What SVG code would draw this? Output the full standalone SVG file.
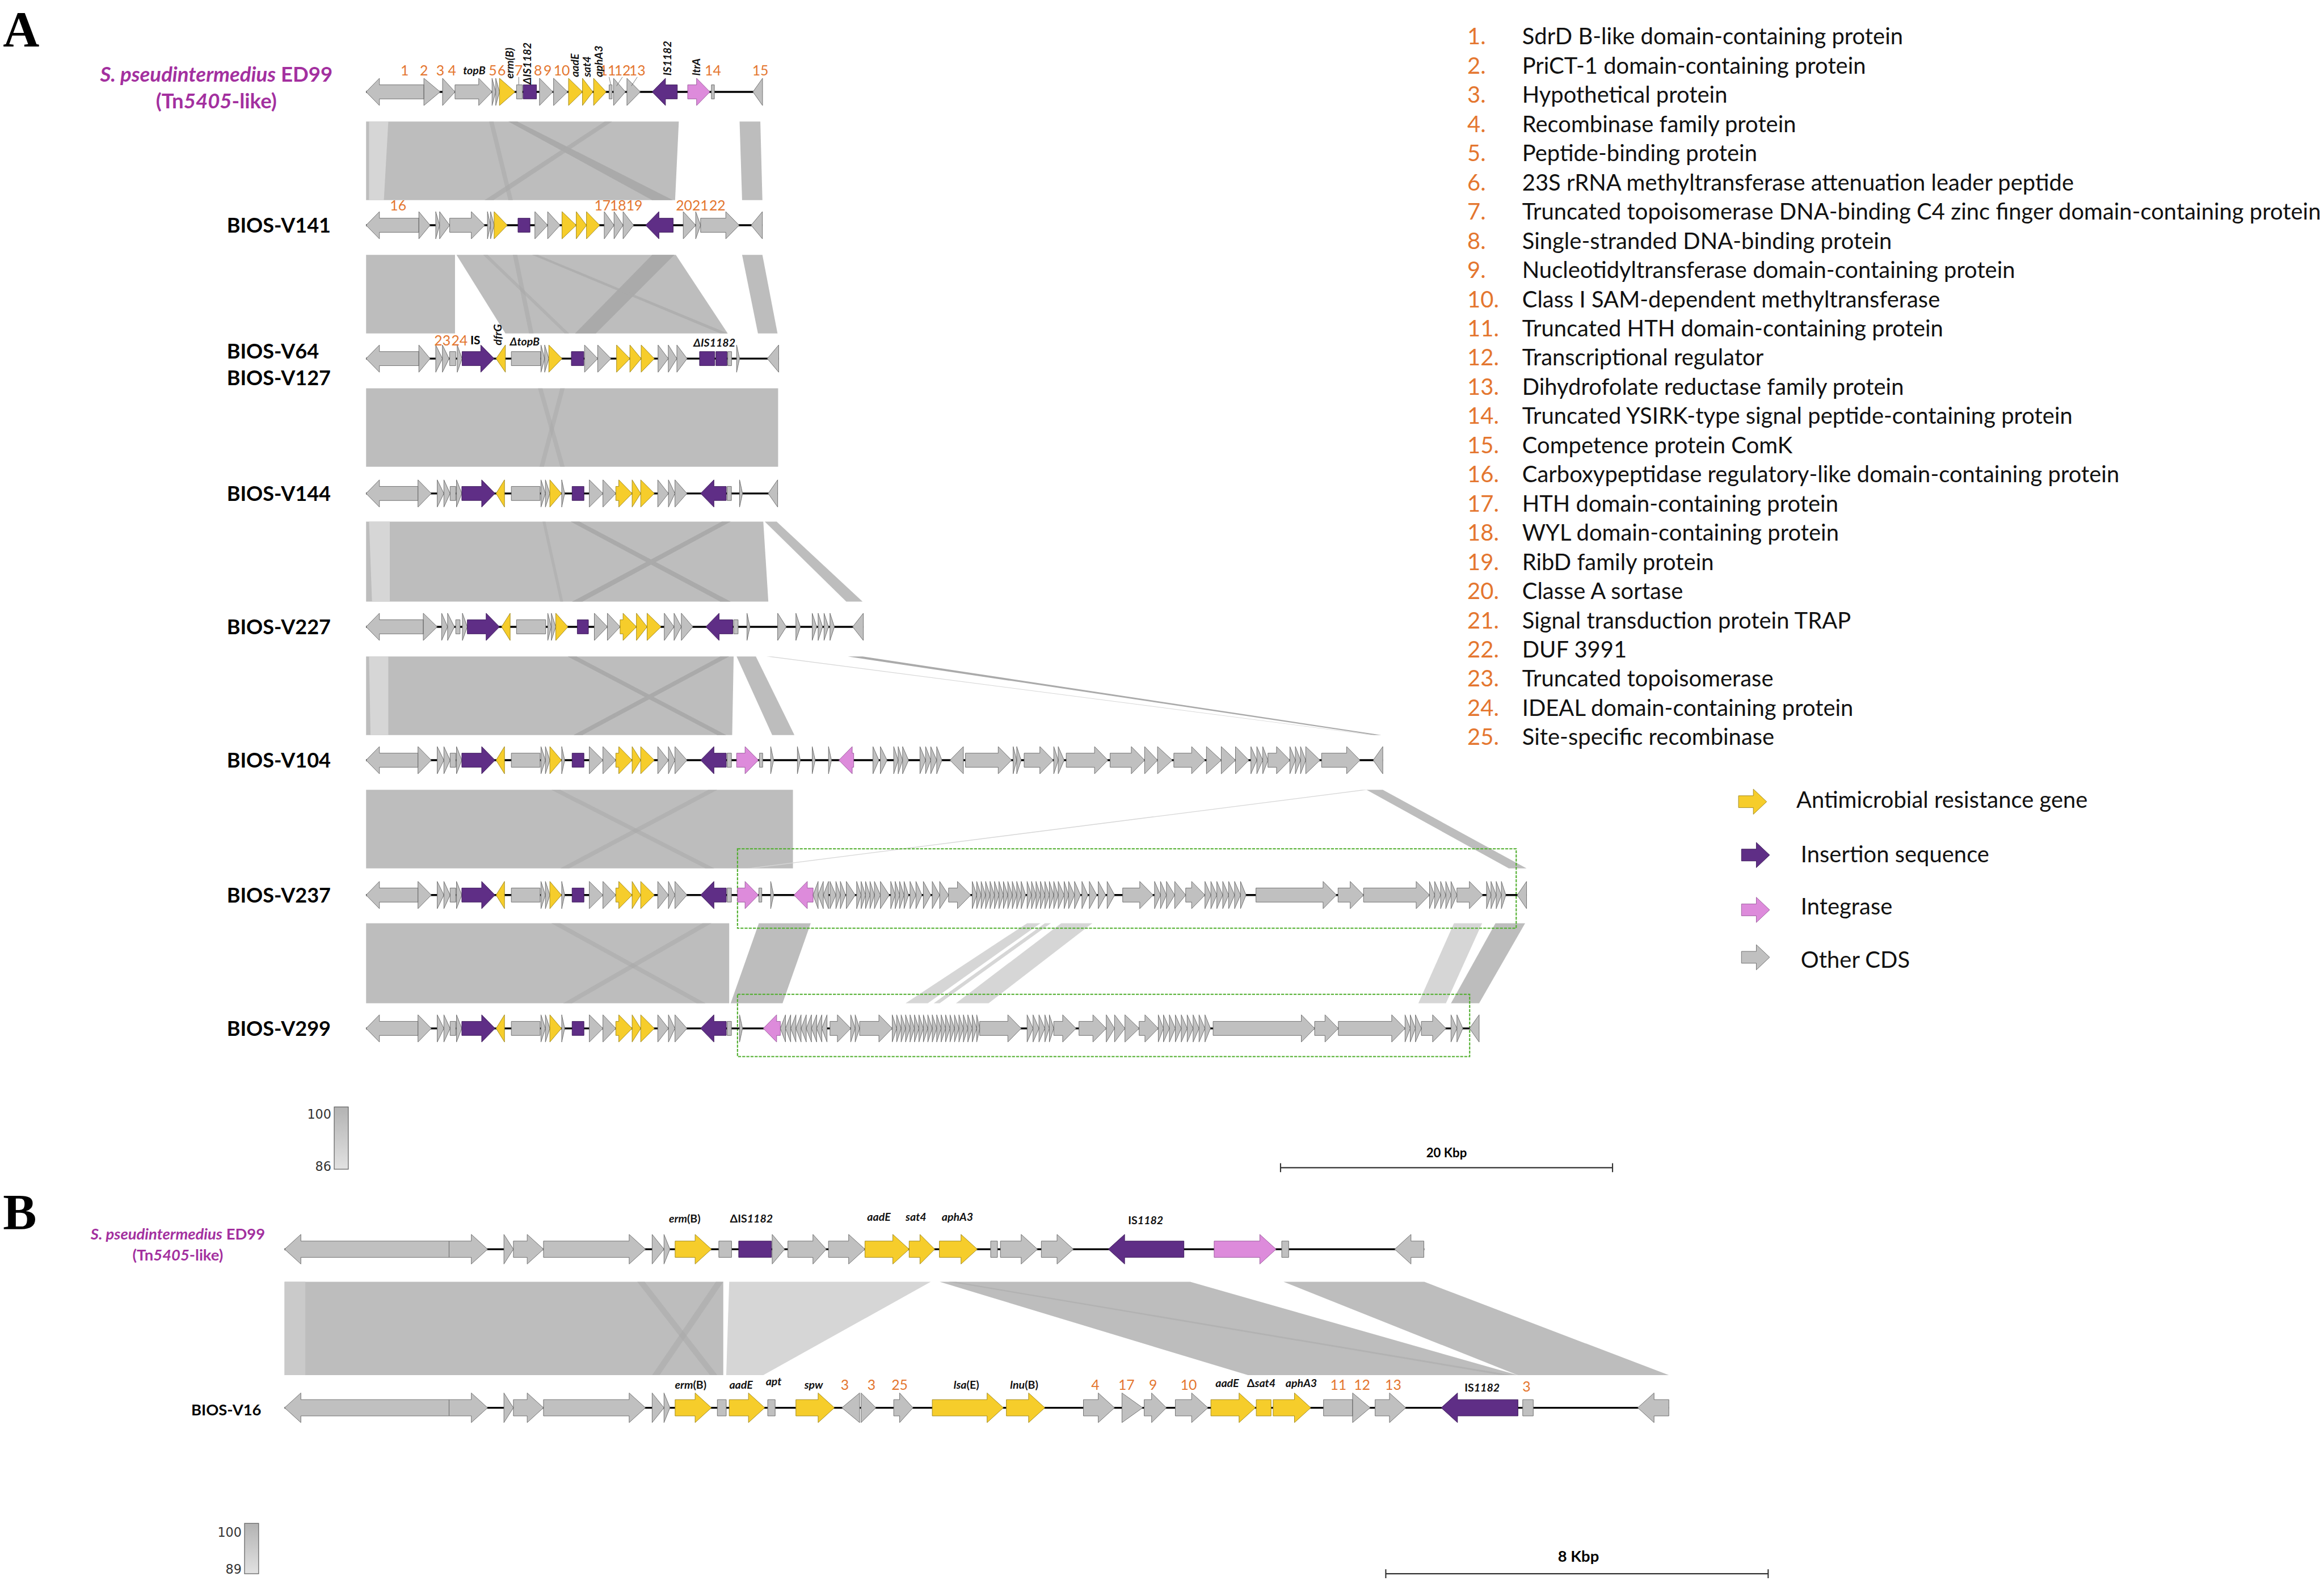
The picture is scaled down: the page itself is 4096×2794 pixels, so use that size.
<svg xmlns="http://www.w3.org/2000/svg" xmlns:xlink="http://www.w3.org/1999/xlink" width="4096" height="2794" viewBox="0 0 4096 2794">
<style>
.g{fill:#c0c0c0;stroke:#6a6a6a;stroke-width:0.35}
.y{fill:#f6cd2b;stroke:#9c8418;stroke-width:0.35}
.p{fill:#5f2e86;stroke:#3a1856;stroke-width:0.35}
.k{fill:#dd8bdb;stroke:#98569a;stroke-width:0.35}
.tr{stroke:#000;stroke-width:1.3}
.bd{fill:#bdbdbd}
.bl{fill:#d6d6d6}
.bk{fill:#aaaaaa}
.num{font-family:Lato,"Open Sans",sans-serif;fill:#e4762f;font-size:9.5px;text-anchor:middle}
.gl{font-family:Lato,"Open Sans",sans-serif;font-weight:bold;font-style:italic;font-size:7.5px;fill:#111}
.glh{font-family:Lato,"Open Sans",sans-serif;font-weight:bold;font-style:italic;font-size:7.5px;fill:#111;text-anchor:middle}
.tl{font-family:Lato,"Open Sans",sans-serif;font-weight:bold;font-size:13.8px;fill:#000}
.lt{font-family:Lato,"Open Sans",sans-serif;font-size:15.3px;fill:#111}
.ln{font-family:Lato,"Open Sans",sans-serif;font-size:15.3px;fill:#e4762f}
.mg{font-family:Lato,"Open Sans",sans-serif;font-weight:bold;fill:#a3309f;text-anchor:middle}
.sc{font-family:"DejaVu Sans",sans-serif;fill:#333;text-anchor:end}
.box{fill:none;stroke:#4fae2c;stroke-width:0.8;stroke-dasharray:2 0.8}
.bar{stroke:#333;stroke-width:0.8;fill:none}
</style>
<defs>
<linearGradient id="grad" x1="0" y1="0" x2="0" y2="1"><stop offset="0" stop-color="#b3b3b3"/><stop offset="1" stop-color="#e2e2e2"/></linearGradient>
<g id="core">
<path class="g" d="M282,-4.75H256V-9.2L247,0L256,9.2V4.75H282Z M282,-9.2L291,0L282,9.2Z M295,-9.2L299.5,0L295,9.2Z M299.5,-9.2L303.7,0L299.5,9.2Z M303.7,-4.75H307.5V4.75H303.7Z M308,-9.2L311.6,0L308,9.2Z M345,-4.75H364.4V4.75H345Z M365,-9.2L368,0L365,9.2Z M368,-9.2L371,0L368,9.2Z M379,-9.2L381,0L379,9.2Z M397.6,-9.2L406.8,0L397.6,9.2Z M406.8,-9.2L415.5,0L406.8,9.2Z M443.8,-9.2L451,0L443.8,9.2Z M451,-9.2L455.4,0L451,9.2Z M455.4,-9.2L463.5,0L455.4,9.2Z M490.6,-4.75H493.5V4.75H490.6Z"/>
<path class="y" d="M340.4,-9.2L334.7,0L340.4,9.2Z M371,-9.2L378.8,0L371,9.2Z M415.5,-4.75H417.5V-9.2L426.5,0L417.5,9.2V4.75H415.5Z M426.5,-9.2L432.3,0L426.5,9.2Z M432.3,-9.2L441.5,0L432.3,9.2Z"/>
<path class="p" d="M311.6,-4.75H325V-9.2L334,0L325,9.2V4.75H311.6Z M386,-4.75H394V4.75H386Z M490,-4.75H481.7V-9.2L472.7,0L481.7,9.2V4.75H490Z"/>
</g>
</defs>
<rect width="4096" height="2794" fill="#fff"/>
<g transform="scale(2.6122)">

<text x="2" y="31" font-family="Liberation Serif" font-weight="bold" font-size="34">A</text>
<text x="2" y="829" font-family="Liberation Serif" font-weight="bold" font-size="34">B</text>

<!-- similarity bands (connectors) -->
<g id="connectors">
<polygon class="bd" points="247,82 458,82 455.5,135 247,135"/>
<polygon class="bl" points="249,82 262,82 259,135 249,135"/>
<polygon class="bk" points="343,82 349,82 454,135 440,135"/>
<polygon class="bk" points="408,82 413,82 333,135 327,135" opacity="0.7"/>
<polygon class="bk" points="330,82 333,82 346,135 343,135" opacity="0.6"/>
<polygon class="bd" points="499,82 513,82 514.4,135 500.7,135"/>

<polygon class="bd" points="247,172 307,172 307,225 247,225"/>
<polygon class="bd" points="308,172 456,172 491,225 341,225"/>
<polygon class="bk" points="440,172 455,172 402,225 388,225"/>
<polygon class="bk" points="359,172 363,172 491,225 486,225" opacity="0.7"/>
<polygon class="bk" points="326,172 329,172 384,225 381,225" opacity="0.6"/>
<polygon class="bk" points="346,172 349,172 360,225 357,225" opacity="0.6"/>
<polygon class="bd" points="500.7,172 514.4,172 524.6,225 511.4,225"/>

<polygon class="bd" points="247,262 525,262 525,315 247,315"/>
<polygon class="bk" points="363,262 366,262 381,315 378,315" opacity="0.5"/>
<polygon class="bk" points="378,262 381,262 367,315 364,315" opacity="0.5"/>

<polygon class="bd" points="247,352 515,352 518.4,406 247,406"/>
<polygon class="bl" points="249,352 263,352 263,406 251,406"/>
<polygon class="bk" points="385,352 391,352 493,406 486,406"/>
<polygon class="bk" points="487,352 493,352 393,406 386,406"/>
<polygon class="bk" points="366,352 368,352 380,406 378,406" opacity="0.5"/>
<polygon class="bd" points="516,352 524,352 582,406 571,406"/>

<polygon class="bd" points="247,443 495,443 494,496 247,496"/>
<polygon class="bl" points="249,443 262,443 262,496 250,496"/>
<polygon class="bk" points="383,443 389,443 490,496 484,496"/>
<polygon class="bk" points="486,443 492,443 393,496 387,496"/>
<polygon class="bd" points="497,443 510,443 536,496 521,496"/>
<polygon class="bl" points="517,443 521,443 927,496 925,496"/>
<polygon class="bk" points="572,443 582,443 932,496 927,496"/>

<polygon class="bd" points="247,533 535,533 535,586 247,586"/>
<polygon class="bk" points="372,533 378,533 482,586 476,586" opacity="0.6"/>
<polygon class="bk" points="478,533 484,533 384,586 378,586" opacity="0.6"/>
<polygon class="bl" points="919,533 923,533 508,586 504,586"/>
<polygon class="bd" points="922,533 933,533 1030,586 1018,586"/>

<polygon class="bd" points="247,623 492,623 492,677 247,677"/>
<polygon class="bk" points="372,623 378,623 476,677 470,677" opacity="0.6"/>
<polygon class="bk" points="474,623 480,623 386,677 380,677" opacity="0.6"/>
<polygon class="bd" points="512,623 547,623 528,677 493,677"/>
<polygon class="bl" points="693,623 702,623 626,677 611,677"/>
<polygon class="bl" points="705,623 709,623 634,677 630,677"/>
<polygon class="bl" points="716,623 737,623 667,677 645,677"/>
<polygon class="bl" points="981,623 1000,623 975.6,677 957,677"/>
<polygon class="bd" points="1009,623 1029,623 998,677 979,677"/>

<polygon class="bd" points="192,865 488,865 488,928 192,928"/>
<polygon fill="#cacaca" points="192,865 206,865 206,928 192,928"/>
<polygon class="bk" points="430,865 435,865 484,928 479,928" opacity="0.6"/>
<polygon class="bk" points="483,865 488,865 445,928 440,928" opacity="0.6"/>
<polygon class="bl" points="492,865 628,865 515,928 490,928"/>
<polygon class="bd" points="634,865 803,865 1024,928 842,928"/>
<polygon class="bk" points="640,865 645,865 1020,928 1013,928" opacity="0.6"/>
<polygon class="bd" points="866,865 961,865 1126,928 1024,928"/>
</g>

<rect class="box" x="497.6" y="572.8" width="525.4" height="53.6"/>
<rect class="box" x="497.6" y="671" width="494" height="42"/>

<!-- ED99 A -->
<g id="ed99-a">
<text class="mg" x="146" y="55" font-size="14"><tspan font-style="italic">S. pseudintermedius</tspan> ED99</text>
<text class="mg" x="146" y="73" font-size="14">(Tn<tspan font-style="italic">5405</tspan>-like)</text>
<g transform="translate(0,62)">
<line class="tr" x1="247" y1="0" x2="514.5" y2="0"/>
<path class="g" d="M286,-4.75H256V-9.2L247,0L256,9.2V4.75H286Z M286,-9.2L297,0L286,9.2Z M298.6,-9.2L307,0L298.6,9.2Z M307,-4.75H323V-9.2L332,0L323,9.2V4.75H307Z M332,-9.2L334.5,0L332,9.2Z M334.5,-9.2L337,0L334.5,9.2Z M348.5,-4.75H352.5V4.75H348.5Z M364,-9.2L373,0L364,9.2Z M373.5,-9.2L383,0L373.5,9.2Z M411,-4.75H413V4.75H411Z M414,-9.2L422,0L414,9.2Z M423,-9.2L432,0L423,9.2Z M480,-4.75H482V4.75H480Z M514.5,-9.2L508,0L514.5,9.2Z"/>
<path class="y" d="M337,-9.2L347.5,0L337,9.2Z M383.6,-9.2L393,0L383.6,9.2Z M393,-9.2L400,0L393,9.2Z M400.5,-9.2L409,0L400.5,9.2Z"/>
<path class="p" d="M353,-4.75H362V4.75H353Z M457,-4.75H449V-9.2L440,0L449,9.2V4.75H457Z"/>
<path class="k" d="M464,-4.75H470V-9.2L479,0L470,9.2V4.75H464Z"/>
</g>
<g stroke="#555" stroke-width="0.3"><line x1="350" y1="52" x2="350" y2="57"/><line x1="411" y1="52" x2="412" y2="57"/><line x1="420" y1="52" x2="416" y2="58"/><line x1="430" y1="52" x2="426" y2="58"/></g>
<text class="num" x="273" y="51">1</text><text class="num" x="286" y="51">2</text><text class="num" x="297" y="51">3</text><text class="num" x="305" y="51">4</text>
<text class="glh" x="320" y="50">topB</text>
<text class="num" x="332.5" y="51">5</text><text class="num" x="338.5" y="51">6</text>
<text class="num" x="350" y="51">7</text><text class="num" x="363" y="51">8</text><text class="num" x="369.5" y="51">9</text><text class="num" x="379" y="51">10</text>
<text class="num" x="410" y="51" font-size="8.3">11</text><text class="num" x="420" y="51" font-size="8.3">12</text><text class="num" x="430" y="51" font-size="8.3">13</text>
<text class="num" x="481" y="51">14</text><text class="num" x="513" y="51">15</text>
<text class="gl" transform="translate(346.5,53) rotate(-90)">erm(B)</text>
<text class="gl" transform="translate(358.5,57) rotate(-90)">ΔIS1182</text>
<text class="gl" transform="translate(390.5,52) rotate(-90)">aadE</text>
<text class="gl" transform="translate(398.5,52) rotate(-90)">sat4</text>
<text class="gl" transform="translate(406.5,52) rotate(-90)">aphA3</text>
<text class="gl" transform="translate(453,51) rotate(-90)">IS1182</text>
<text class="gl" transform="translate(472.5,51) rotate(-90)">ltrA</text>
</g>

<!-- V141 -->
<g id="v141">
<text class="tl" x="153" y="157">BIOS-V141</text>
<g transform="translate(0,152)">
<line class="tr" x1="247" y1="0" x2="514.4" y2="0"/>
<path class="g" d="M282.6,-4.75H256V-9.2L247,0L256,9.2V4.75H282.6Z M282.6,-9.2L290.2,0L282.6,9.2Z M294,-9.2L296.6,0L294,9.2Z M296.6,-9.2L303.4,0L296.6,9.2Z M303.4,-4.75H318V-9.2L327,0L318,9.2V4.75H303.4Z M328.9,-9.2L331,0L328.9,9.2Z M331,-9.2L333.4,0L331,9.2Z M360.9,-9.2L369.5,0L360.9,9.2Z M369.5,-9.2L377.9,0L369.5,9.2Z M407.7,-9.2L414.3,0L407.7,9.2Z M414.3,-9.2L420.4,0L414.3,9.2Z M420.4,-9.2L427.5,0L420.4,9.2Z M461,-9.2L469.4,0L461,9.2Z M469.4,-9.2L472.7,0L469.4,9.2Z M472.7,-4.75H489.7V-9.2L498.7,0L489.7,9.2V4.75H472.7Z M514.4,-9.2L506.8,0L514.4,9.2Z"/>
<path class="y" d="M333.4,-9.2L342.3,0L333.4,9.2Z M379.2,-9.2L388.8,0L379.2,9.2Z M388.8,-9.2L395.7,0L388.8,9.2Z M395.7,-9.2L404.6,0L395.7,9.2Z"/>
<path class="p" d="M349.5,-4.75H357.6V4.75H349.5Z M454.2,-4.75H444.6V-9.2L435.6,0L444.6,9.2V4.75H454.2Z"/>
</g>
<text class="num" x="268.6" y="142" font-size="10.5">16</text><text class="num" x="406.5" y="142" font-size="9">17</text><text class="num" x="417" y="142" font-size="9">18</text><text class="num" x="428" y="142" font-size="9">19</text>
<text class="num" x="461.5" y="142" font-size="9">20</text><text class="num" x="472.5" y="142" font-size="9">21</text><text class="num" x="484" y="142" font-size="9">22</text>
</g>

<!-- V64 / V127 -->
<g id="v64">
<text class="tl" x="153" y="242">BIOS-V64</text>
<text class="tl" x="153" y="260">BIOS-V127</text>
<g transform="translate(0,242)">
<line class="tr" x1="247" y1="0" x2="525.4" y2="0"/>
<path class="g" d="M282.6,-4.75H256V-9.2L247,0L256,9.2V4.75H282.6Z M282.6,-9.2L290.2,0L282.6,9.2Z M294,-9.2L298.5,0L294,9.2Z M298.5,-9.2L303,0L298.5,9.2Z M303.4,-4.75H307.5V4.75H303.4Z M308.5,-9.2L311.8,0L308.5,9.2Z M345,-4.75H364.7V4.75H345Z M365,-9.2L367.5,0L365,9.2Z M367.5,-9.2L370.3,0L367.5,9.2Z M394.4,-9.2L403.3,0L394.4,9.2Z M403.3,-9.2L412.2,0L403.3,9.2Z M444,-9.2L450.9,0L444,9.2Z M450.9,-9.2L456.7,0L450.9,9.2Z M456.7,-9.2L463.6,0L456.7,9.2Z M491,-4.75H493.6V4.75H491Z M497,-9.2L499,0L497,9.2Z M525.4,-9.2L517.7,0L525.4,9.2Z"/>
<path class="y" d="M341,-9.2L334.7,0L341,9.2Z M370.3,-9.2L379.2,0L370.3,9.2Z M416,-9.2L425,0L416,9.2Z M425,-9.2L432.6,0L425,9.2Z M432.6,-9.2L441.5,0L432.6,9.2Z"/>
<path class="p" d="M311.8,-4.75H324.4V-9.2L333.4,0L324.4,9.2V4.75H311.8Z M385.5,-4.75H393.9V4.75H385.5Z M472,-4.75H482.2V4.75H472Z M483,-4.75H490.5V4.75H483Z"/>
</g>
<text class="num" x="298.5" y="233">23</text><text class="num" x="310" y="233">24</text>
<text x="320.7" y="232.5" font-family="Lato,sans-serif" font-weight="bold" font-size="8" text-anchor="middle">IS</text>
<text class="gl" transform="translate(338.5,233) rotate(-90)">dfrG</text>
<text class="glh" x="354" y="233">ΔtopB</text>
<text class="glh" x="482" y="234">ΔIS1182</text>
</g>

<!-- V144 -->
<g id="v144">
<text class="tl" x="153" y="338">BIOS-V144</text>
<g transform="translate(0,333)">
<line class="tr" x1="247" y1="0" x2="524.7" y2="0"/>
<use xlink:href="#core"/>
<path class="g" d="M499,-9.2L501,0L499,9.2Z M524.7,-9.2L518.3,0L524.7,9.2Z"/>
</g>
</g>

<!-- V227 -->
<g id="v227">
<text class="tl" x="153" y="428">BIOS-V227</text>
<g transform="translate(0,423)">
<line class="tr" x1="247" y1="0" x2="582.5" y2="0"/>
<path class="g" d="M285.6,-4.75H256V-9.2L247,0L256,9.2V4.75H285.6Z M285.6,-9.2L295,0L285.6,9.2Z M298,-9.2L302,0L298,9.2Z M302,-9.2L306.6,0L302,9.2Z M307.5,-4.75H310.4V4.75H307.5Z M312,-9.2L315.3,0L312,9.2Z M348.5,-4.75H368.2V4.75H348.5Z M369.6,-9.2L372,0L369.6,9.2Z M372,-9.2L375,0L372,9.2Z M401,-9.2L409.8,0L401,9.2Z M409.8,-9.2L418.4,0L409.8,9.2Z M448.2,-9.2L454.8,0L448.2,9.2Z M454.8,-9.2L459.7,0L454.8,9.2Z M459.7,-9.2L467.5,0L459.7,9.2Z M495,-4.75H498V4.75H495Z M504,-9.2L506,0L504,9.2Z M524.7,-9.2L530.5,0L524.7,9.2Z M537,-9.2L540,0L537,9.2Z M548,-9.2L551,0L548,9.2Z M552,-9.2L555,0L552,9.2Z M556,-9.2L559,0L556,9.2Z M560,-9.2L563,0L560,9.2Z M582.5,-9.2L575.3,0L582.5,9.2Z"/>
<path class="y" d="M344.2,-9.2L338.4,0L344.2,9.2Z M375,-9.2L383.2,0L375,9.2Z M418.4,-4.75H420.4V-9.2L429.4,0L420.4,9.2V4.75H418.4Z M429.4,-9.2L436.6,0L429.4,9.2Z M436.6,-9.2L446,0L436.6,9.2Z"/>
<path class="p" d="M315.3,-4.75H328V-9.2L337,0L328,9.2V4.75H315.3Z M389.5,-4.75H397V4.75H389.5Z M494.4,-4.75H485.2V-9.2L476.2,0L485.2,9.2V4.75H494.4Z"/>
</g>
</g>

<!-- V104 -->
<g id="v104">
<text class="tl" x="153" y="518">BIOS-V104</text>
<g transform="translate(0,513)">
<line class="tr" x1="247" y1="0" x2="933" y2="0"/>
<use xlink:href="#core"/>
<path class="k" d="M497,-4.75H502.7V-9.2L511.7,0L502.7,9.2V4.75H497Z M576,-4.75H575V-9.2L566,0L575,9.2V4.75H576Z"/>
<path class="g" d="M512.4,-4.75H514.6V4.75H512.4Z M520,-9.2L522,0L520,9.2Z M538,-9.2L540,0L538,9.2Z M548,-9.2L550,0L548,9.2Z M559,-9.2L561,0L559,9.2Z M589,-9.2L593,0L589,9.2Z M594,-9.2L598.5,0L594,9.2Z M603,-9.2L606,0L603,9.2Z M606,-9.2L609,0L606,9.2Z M609,-9.2L613,0L609,9.2Z M620.7,-9.2L624.5,0L620.7,9.2Z M624.5,-9.2L628,0L624.5,9.2Z M628,-9.2L632,0L628,9.2Z M632,-9.2L635.5,0L632,9.2Z M650,-9.2L641,0L650,9.2Z M651.4,-4.75H673.5V-9.2L682.5,0L673.5,9.2V4.75H651.4Z M683.6,-9.2L686,0L683.6,9.2Z M686,-9.2L689,0L686,9.2Z M691,-4.75H701.6V-9.2L710.6,0L701.6,9.2V4.75H691Z M711,-9.2L714,0L711,9.2Z M714,-9.2L718,0L714,9.2Z M719.4,-4.75H738.5V-9.2L747.5,0L738.5,9.2V4.75H719.4Z M749,-4.75H763.3V-9.2L772.3,0L763.3,9.2V4.75H749Z M772.3,-9.2L781,0L772.3,9.2Z M781,-9.2L791,0L781,9.2Z M792,-4.75H804V-9.2L813,0L804,9.2V4.75H792Z M814,-9.2L824,0L814,9.2Z M824,-9.2L833.6,0L824,9.2Z M833.6,-9.2L842.6,0L833.6,9.2Z M844,-9.2L848,0L844,9.2Z M848,-9.2L852,0L848,9.2Z M852,-9.2L855.5,0L852,9.2Z M855.5,-4.75H861.3V-9.2L870.3,0L861.3,9.2V4.75H855.5Z M870.3,-9.2L874,0L870.3,9.2Z M874,-9.2L877.5,0L874,9.2Z M877.5,-9.2L881,0L877.5,9.2Z M881,-9.2L890.6,0L881,9.2Z M891.7,-4.75H908.6V-9.2L917.6,0L908.6,9.2V4.75H891.7Z M933,-9.2L926.5,0L933,9.2Z"/>
</g>
</g>

<!-- V237 -->
<g id="v237">
<text class="tl" x="153" y="609">BIOS-V237</text>
<g transform="translate(0,604)">
<line class="tr" x1="247" y1="0" x2="1030" y2="0"/>
<use xlink:href="#core"/>
<path class="k" d="M497.6,-4.75H502.7V-9.2L511.7,0L502.7,9.2V4.75H497.6Z M548.6,-4.75H544.7V-9.2L535.7,0L544.7,9.2V4.75H548.6Z"/>
<path class="g" d="M512,-4.75H514V4.75H512Z M520,-9.2L522,0L520,9.2Z M552,-9.2L548.6,0L552,9.2Z M555.5,-9.2L552,0L555.5,9.2Z M559,-9.2L555.5,0L559,9.2Z M560,-9.2L564,0L560,9.2Z M564,-9.2L567,0L564,9.2Z M567,-9.2L570.5,0L567,9.2Z M571,-9.2L577,0L571,9.2Z M578,-9.2L581,0L578,9.2Z M581,-9.2L584,0L581,9.2Z M584,-9.2L587,0L584,9.2Z M587,-9.2L590,0L587,9.2Z M590,-9.2L594,0L590,9.2Z M594,-9.2L600,0L594,9.2Z M601,-9.2L604,0L601,9.2Z M604,-9.2L607,0L604,9.2Z M607,-9.2L610,0L607,9.2Z M610,-9.2L613,0L610,9.2Z M614,-9.2L618,0L614,9.2Z M618,-9.2L622,0L618,9.2Z M623,-9.2L628,0L623,9.2Z M629,-9.2L634,0L629,9.2Z M634,-9.2L640,0L634,9.2Z M640,-4.75H646V-9.2L655,0L646,9.2V4.75H640Z M656,-9.2L659,0L656,9.2Z M659,-9.2L662,0L659,9.2Z M662,-9.2L665,0L662,9.2Z M665,-9.2L668,0L665,9.2Z M668,-9.2L671,0L668,9.2Z M671,-9.2L674,0L671,9.2Z M674,-9.2L677,0L674,9.2Z M677,-9.2L680,0L677,9.2Z M680,-9.2L683,0L680,9.2Z M683,-9.2L686,0L683,9.2Z M686,-9.2L689,0L686,9.2Z M689,-9.2L692,0L689,9.2Z M693,-9.2L696,0L693,9.2Z M696,-9.2L699,0L696,9.2Z M699,-9.2L702,0L699,9.2Z M702,-9.2L705,0L702,9.2Z M705,-9.2L708,0L705,9.2Z M708,-9.2L711,0L708,9.2Z M711,-9.2L714,0L711,9.2Z M714,-9.2L718,0L714,9.2Z M718,-9.2L721,0L718,9.2Z M721,-9.2L725,0L721,9.2Z M725,-9.2L729,0L725,9.2Z M730,-9.2L734,0L730,9.2Z M735,-9.2L740,0L735,9.2Z M741,-9.2L746,0L741,9.2Z M747,-9.2L752,0L747,9.2Z M757.5,-4.75H769V-9.2L778,0L769,9.2V4.75H757.5Z M779,-9.2L783,0L779,9.2Z M783,-9.2L787,0L783,9.2Z M787,-9.2L792.6,0L787,9.2Z M792.6,-9.2L800,0L792.6,9.2Z M800,-4.75H804V-9.2L813,0L804,9.2V4.75H800Z M813,-9.2L817,0L813,9.2Z M817,-9.2L821,0L817,9.2Z M821,-9.2L825,0L821,9.2Z M825,-9.2L829,0L825,9.2Z M829,-9.2L833,0L829,9.2Z M833,-9.2L837,0L833,9.2Z M837,-9.2L840.7,0L837,9.2Z M847.4,-4.75H892.7V-9.2L901.7,0L892.7,9.2V4.75H847.4Z M902.8,-4.75H911V-9.2L920,0L911,9.2V4.75H902.8Z M920,-4.75H955.5V-9.2L964.5,0L955.5,9.2V4.75H920Z M964.5,-9.2L968,0L964.5,9.2Z M968,-9.2L972,0L968,9.2Z M972,-9.2L975.5,0L972,9.2Z M975.5,-9.2L979,0L975.5,9.2Z M979,-9.2L983,0L979,9.2Z M983,-4.75H991.4V-9.2L1000.4,0L991.4,9.2V4.75H983Z M1003,-9.2L1006,0L1003,9.2Z M1006,-9.2L1009.5,0L1006,9.2Z M1009.5,-9.2L1013,0L1009.5,9.2Z M1013,-9.2L1016,0L1013,9.2Z M1030,-9.2L1023.7,0L1030,9.2Z"/>
</g>
</g>

<!-- V299 -->
<g id="v299">
<text class="tl" x="153" y="699">BIOS-V299</text>
<g transform="translate(0,694)">
<line class="tr" x1="247" y1="0" x2="998" y2="0"/>
<use xlink:href="#core"/>
<path class="k" d="M526.5,-4.75H524V-9.2L515,0L524,9.2V4.75H526.5Z"/>
<path class="g" d="M499,-9.2L501,0L499,9.2Z M530,-9.2L526.5,0L530,9.2Z M533.5,-9.2L530,0L533.5,9.2Z M537,-9.2L533.5,0L537,9.2Z M540.5,-9.2L537,0L540.5,9.2Z M544,-9.2L540.5,0L544,9.2Z M547.5,-9.2L544,0L547.5,9.2Z M551,-9.2L547.5,0L551,9.2Z M554.5,-9.2L551,0L554.5,9.2Z M558,-9.2L554.5,0L558,9.2Z M560,-4.75H565V-9.2L574,0L565,9.2V4.75H560Z M574,-9.2L577,0L574,9.2Z M577,-9.2L580,0L577,9.2Z M580,-4.75H593V-9.2L602,0L593,9.2V4.75H580Z M602,-9.2L605,0L602,9.2Z M605,-9.2L608,0L605,9.2Z M608,-9.2L611,0L608,9.2Z M611,-9.2L614,0L611,9.2Z M614,-9.2L617,0L614,9.2Z M617,-9.2L620,0L617,9.2Z M620,-9.2L623,0L620,9.2Z M623,-9.2L626,0L623,9.2Z M626,-9.2L629,0L626,9.2Z M629,-9.2L632,0L629,9.2Z M632,-9.2L635,0L632,9.2Z M635,-9.2L638,0L635,9.2Z M638,-9.2L641,0L638,9.2Z M641,-9.2L644,0L641,9.2Z M644,-9.2L647,0L644,9.2Z M647,-9.2L650,0L647,9.2Z M650,-9.2L653,0L650,9.2Z M653,-9.2L656,0L653,9.2Z M656,-9.2L659,0L656,9.2Z M659,-9.2L661,0L659,9.2Z M661,-4.75H680V-9.2L689,0L680,9.2V4.75H661Z M693,-9.2L697,0L693,9.2Z M697,-9.2L701,0L697,9.2Z M701,-9.2L705,0L701,9.2Z M705,-9.2L708,0L705,9.2Z M708,-9.2L711,0L708,9.2Z M711,-4.75H717V-9.2L726,0L717,9.2V4.75H711Z M728,-4.75H737.4V-9.2L746.4,0L737.4,9.2V4.75H728Z M746.4,-9.2L752,0L746.4,9.2Z M752,-9.2L759,0L752,9.2Z M759,-9.2L768.6,0L759,9.2Z M768.6,-4.75H772.5V-9.2L781.5,0L772.5,9.2V4.75H768.6Z M781.5,-9.2L785,0L781.5,9.2Z M785,-9.2L789,0L785,9.2Z M789,-9.2L793,0L789,9.2Z M793,-9.2L797,0L793,9.2Z M797,-9.2L801,0L797,9.2Z M801,-9.2L805,0L801,9.2Z M805,-9.2L809,0L805,9.2Z M809,-9.2L813,0L809,9.2Z M813,-9.2L816.7,0L813,9.2Z M818.5,-4.75H878V-9.2L887,0L878,9.2V4.75H818.5Z M887,-4.75H894V-9.2L903,0L894,9.2V4.75H887Z M903,-4.75H939V-9.2L948,0L939,9.2V4.75H903Z M948,-9.2L951.5,0L948,9.2Z M951.5,-9.2L955,0L951.5,9.2Z M955,-9.2L959,0L955,9.2Z M959,-4.75H966.6V-9.2L975.6,0L966.6,9.2V4.75H959Z M979,-9.2L983,0L979,9.2Z M983,-9.2L987,0L983,9.2Z M998,-9.2L991.5,0L998,9.2Z"/>
</g>
</g>

<!-- scale A -->
<g id="scale-a">
<rect x="225.5" y="747" width="9.5" height="42" fill="url(#grad)" stroke="#666" stroke-width="0.5"/>
<text class="sc" x="223.5" y="755" font-size="8.5">100</text>
<text class="sc" x="223.5" y="790" font-size="8.5">86</text>
<text x="976" y="781" font-family="Lato,sans-serif" font-weight="bold" font-size="8.5" text-anchor="middle">20 Kbp</text>
<path class="bar" d="M864,788H1088M864,785V791M1088,785V791"/>
</g>

<!-- legend -->
<g id="legend">
<text class="ln" x="990" y="30">1.</text><text class="lt" x="1027" y="30">SdrD B-like domain-containing protein</text>
<text class="ln" x="990" y="49.7">2.</text><text class="lt" x="1027" y="49.7">PriCT-1 domain-containing protein</text>
<text class="ln" x="990" y="69.4">3.</text><text class="lt" x="1027" y="69.4">Hypothetical protein</text>
<text class="ln" x="990" y="89.1">4.</text><text class="lt" x="1027" y="89.1">Recombinase family protein</text>
<text class="ln" x="990" y="108.8">5.</text><text class="lt" x="1027" y="108.8">Peptide-binding protein</text>
<text class="ln" x="990" y="128.5">6.</text><text class="lt" x="1027" y="128.5">23S rRNA methyltransferase attenuation leader peptide</text>
<text class="ln" x="990" y="148.2">7.</text><text class="lt" x="1027" y="148.2">Truncated topoisomerase DNA-binding C4 zinc finger domain-containing protein</text>
<text class="ln" x="990" y="167.9">8.</text><text class="lt" x="1027" y="167.9">Single-stranded DNA-binding protein</text>
<text class="ln" x="990" y="187.6">9.</text><text class="lt" x="1027" y="187.6">Nucleotidyltransferase domain-containing protein</text>
<text class="ln" x="990" y="207.3">10.</text><text class="lt" x="1027" y="207.3">Class I SAM-dependent methyltransferase</text>
<text class="ln" x="990" y="227">11.</text><text class="lt" x="1027" y="227">Truncated HTH domain-containing protein</text>
<text class="ln" x="990" y="246.7">12.</text><text class="lt" x="1027" y="246.7">Transcriptional regulator</text>
<text class="ln" x="990" y="266.4">13.</text><text class="lt" x="1027" y="266.4">Dihydrofolate reductase family protein</text>
<text class="ln" x="990" y="286.1">14.</text><text class="lt" x="1027" y="286.1">Truncated YSIRK-type signal peptide-containing protein</text>
<text class="ln" x="990" y="305.8">15.</text><text class="lt" x="1027" y="305.8">Competence protein ComK</text>
<text class="ln" x="990" y="325.5">16.</text><text class="lt" x="1027" y="325.5">Carboxypeptidase regulatory-like domain-containing protein</text>
<text class="ln" x="990" y="345.2">17.</text><text class="lt" x="1027" y="345.2">HTH domain-containing protein</text>
<text class="ln" x="990" y="364.9">18.</text><text class="lt" x="1027" y="364.9">WYL domain-containing protein</text>
<text class="ln" x="990" y="384.6">19.</text><text class="lt" x="1027" y="384.6">RibD family protein</text>
<text class="ln" x="990" y="404.3">20.</text><text class="lt" x="1027" y="404.3">Classe A sortase</text>
<text class="ln" x="990" y="424">21.</text><text class="lt" x="1027" y="424">Signal transduction protein TRAP</text>
<text class="ln" x="990" y="443.7">22.</text><text class="lt" x="1027" y="443.7">DUF 3991</text>
<text class="ln" x="990" y="463.4">23.</text><text class="lt" x="1027" y="463.4">Truncated topoisomerase</text>
<text class="ln" x="990" y="483.1">24.</text><text class="lt" x="1027" y="483.1">IDEAL domain-containing protein</text>
<text class="ln" x="990" y="502.8">25.</text><text class="lt" x="1027" y="502.8">Site-specific recombinase</text>
</g>
<g id="key">
<path class="y" d="M1173,537H1183V532.5L1192,541L1183,549.5V545H1173Z"/>
<text class="lt" x="1212" y="545">Antimicrobial resistance gene</text>
<path class="p" d="M1175,573H1185V568.5L1194,577L1185,585.5V581H1175Z"/>
<text class="lt" x="1215" y="582">Insertion sequence</text>
<path class="k" d="M1175,610H1185V605.5L1194,614L1185,622.5V618H1175Z"/>
<text class="lt" x="1215" y="617">Integrase</text>
<path class="g" d="M1175,642H1185V637.5L1194,646L1185,654.5V650H1175Z"/>
<text class="lt" x="1215" y="653">Other CDS</text>
</g>

<!-- Panel B ED99 -->
<g id="ed99-b">
<text class="mg" x="120" y="836.5" font-size="10.5"><tspan font-style="italic">S. pseudintermedius</tspan> ED99</text>
<text class="mg" x="120" y="850.5" font-size="10.5">(Tn<tspan font-style="italic">5405</tspan>-like)</text>
<g transform="translate(0,843)">
<line class="tr" x1="192" y1="0" x2="961" y2="0"/>
<path class="g" d="M303,-5.5H203V-10L192,0L203,10V5.5H303Z M303,-5.5H318V-10L329,0L318,10V5.5H303Z M340,-10L346.4,0L340,10Z M346.4,-5.5H355.7V-10L366.7,0L355.7,10V5.5H346.4Z M366.7,-5.5H424.5V-10L435.5,0L424.5,10V5.5H366.7Z M440,-10L448,0L440,10Z M448,-10L452,0L448,10Z M485,-5.5H493.6V5.5H485Z M521,-10L529.4,0L521,10Z M531.6,-5.5H548.5V-10L557.5,0L548.5,10V5.5H531.6Z M559,-5.5H572.6V-10L583.6,0L572.6,10V5.5H559Z M668.4,-5.5H673V5.5H668.4Z M675,-5.5H689V-10L700,0L689,10V5.5H675Z M702.6,-5.5H713.2V-10L724.2,0L713.2,10V5.5H702.6Z M864.8,-5.5H869.5V5.5H864.8Z M960.7,-5.5H952V-10L941,0L952,10V5.5H960.7Z"/>
<path class="y" d="M455.5,-5.5H469V-10L480,0L469,10V5.5H455.5Z M583.6,-5.5H602.4V-10L613.4,0L602.4,10V5.5H583.6Z M613.4,-5.5H620.7V-10L630.7,0L620.7,10V5.5H613.4Z M633.8,-5.5H648.4V-10L659.4,0L648.4,10V5.5H633.8Z"/>
<path class="p" d="M498.4,-5.5H520.5V5.5H498.4Z M798.8,-5.5H758.8V-10L747.8,0L758.8,10V5.5H798.8Z"/>
<path class="k" d="M819.2,-5.5H850V-10L861,0L850,10V5.5H819.2Z"/>
</g>
<text class="glh" x="462" y="825" font-size="8.5">erm<tspan font-style="normal">(B)</tspan></text>
<text class="glh" x="507" y="825" font-size="8.5"><tspan font-style="normal">ΔIS</tspan>1182</text>
<text class="glh" x="593" y="824" font-size="8.5">aadE</text>
<text class="glh" x="618" y="824" font-size="8.5">sat4</text>
<text class="glh" x="646" y="824" font-size="8.5">aphA3</text>
<text class="glh" x="773" y="826" font-size="8.5"><tspan font-style="normal">IS</tspan>1182</text>
</g>

<!-- Panel B V16 -->
<g id="v16">
<text x="129" y="955" font-family="Lato,sans-serif" font-weight="bold" font-size="10.5">BIOS-V16</text>
<g transform="translate(0,950)">
<line class="tr" x1="192" y1="0" x2="1126" y2="0"/>
<path class="g" d="M303,-5.5H203V-10L192,0L203,10V5.5H303Z M303,-5.5H318V-10L329,0L318,10V5.5H303Z M340,-10L346.4,0L340,10Z M346.4,-5.5H355.7V-10L366.7,0L355.7,10V5.5H346.4Z M366.7,-5.5H424.5V-10L435.5,0L424.5,10V5.5H366.7Z M440,-10L448,0L440,10Z M448,-10L452,0L448,10Z M484,-5.5H490V5.5H484Z M518,-5.5H523V5.5H518Z M580,-10L568,0L580,10Z M581,-10L591,0L581,10Z M603,-5.5H607V-10L616,0L607,10V5.5H603Z M731,-5.5H741V-10L752,0L741,10V5.5H731Z M757,-10L771,0L757,10Z M772,-5.5H777V-10L787,0L777,10V5.5H772Z M793,-5.5H804V-10L815,0L804,10V5.5H793Z M893,-5.5H912.6V5.5H893Z M912.6,-10L924.5,0L912.6,10Z M927.8,-5.5H937.5V-10L948.5,0L937.5,10V5.5H927.8Z M1027.4,-5.5H1034.5V5.5H1027.4Z M1126,-5.5H1116V-10L1105,0L1116,10V5.5H1126Z"/>
<path class="y" d="M455.5,-5.5H469V-10L480,0L469,10V5.5H455.5Z M492,-5.5H505V-10L516,0L505,10V5.5H492Z M537,-5.5H552V-10L563,0L552,10V5.5H537Z M629,-5.5H666V-10L677,0L666,10V5.5H629Z M679,-5.5H694V-10L705,0L694,10V5.5H679Z M817,-5.5H836V-10L847,0L836,10V5.5H817Z M847.6,-5.5H857.6V5.5H847.6Z M859,-5.5H873.4V-10L884.4,0L873.4,10V5.5H859Z"/>
<path class="p" d="M1024.2,-5.5H983.4V-10L972.4,0L983.4,10V5.5H1024.2Z"/>
</g>
<text class="glh" x="466" y="937" font-size="8.5">erm<tspan font-style="normal">(B)</tspan></text>
<text class="glh" x="500" y="937" font-size="8.5">aadE</text>
<text class="glh" x="522" y="935" font-size="8.5">apt</text>
<text class="glh" x="549" y="937" font-size="8.5">spw</text>
<text class="num" x="570" y="938" font-size="11">3</text>
<text class="num" x="588" y="938" font-size="11">3</text>
<text class="num" x="607" y="938" font-size="11">25</text>
<text class="glh" x="652" y="937" font-size="8.5">lsa<tspan font-style="normal">(E)</tspan></text>
<text class="glh" x="691" y="937" font-size="8.5">lnu<tspan font-style="normal">(B)</tspan></text>
<text class="num" x="739" y="938" font-size="11">4</text>
<text class="num" x="760" y="938" font-size="11">17</text>
<text class="num" x="778" y="938" font-size="11">9</text>
<text class="num" x="802" y="938" font-size="11">10</text>
<text class="glh" x="828" y="936" font-size="8.5">aadE</text>
<text class="glh" x="851" y="936" font-size="8.5"><tspan font-style="normal">Δ</tspan>sat4</text>
<text class="glh" x="878" y="936" font-size="8.5">aphA3</text>
<text class="num" x="903" y="938" font-size="11">11</text>
<text class="num" x="919" y="938" font-size="11">12</text>
<text class="num" x="940" y="938" font-size="11">13</text>
<text class="glh" x="1000" y="939" font-size="8.5"><tspan font-style="normal">IS</tspan>1182</text>
<text class="num" x="1030" y="939" font-size="11">3</text>
</g>

<!-- scale B -->
<g id="scale-b">
<rect x="165" y="1028" width="9.5" height="34" fill="url(#grad)" stroke="#666" stroke-width="0.5"/>
<text class="sc" x="163" y="1037" font-size="8.5">100</text>
<text class="sc" x="163" y="1062" font-size="8.5">89</text>
<text x="1065" y="1054" font-family="Lato,sans-serif" font-weight="bold" font-size="10.5" text-anchor="middle">8 Kbp</text>
<path class="bar" d="M935,1062H1193M935,1059V1065M1193,1059V1065"/>
</g>
</g>
</svg>
